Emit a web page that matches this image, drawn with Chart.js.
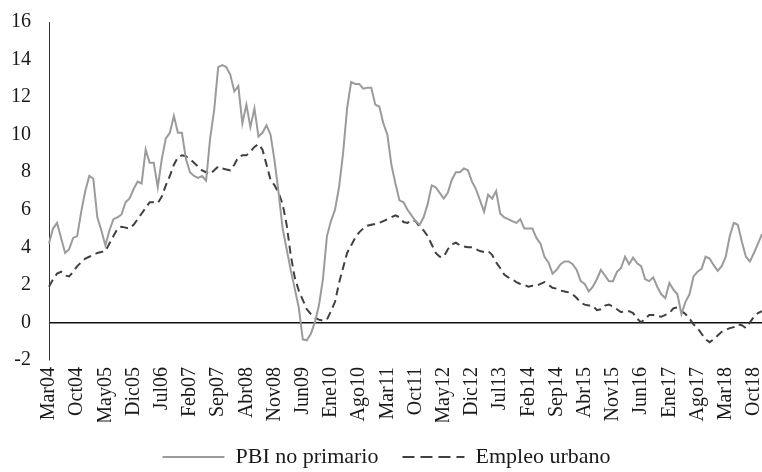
<!DOCTYPE html>
<html>
<head>
<meta charset="utf-8">
<script src="https://cdn.jsdelivr.net/npm/chart.js@4"></script>
<style>
  body { margin: 0; background: #fff; }
  #wrap { width: 762px; height: 472px; position: relative; }
</style>
</head>
<body>
<div id="wrap"><canvas id="chart"></canvas></div>
<script>
// month names used in the category labels (Mar04 ... Dic18)
var monthNames = ['Ene','Feb','Mar','Abr','May','Jun','Jul','Ago','Sep','Oct','Nov','Dic'];
var startYear = 2004, startMonth = 2, nMonths = 178;

// PBI no primario (var. % 12 meses)
var pbiNoPrimario = [
  4.2, 5.0, 5.3, 4.5, 3.7, 3.9, 4.5, 4.6, 5.9, 7.0, 7.8, 7.65,
  5.6, 4.9, 4.1, 4.9, 5.5, 5.6, 5.75, 6.4, 6.6, 7.1, 7.5, 7.4,
  9.2, 8.5, 8.5, 7.2, 8.7, 9.8, 10.1, 11.0, 10.1, 10.1, 8.7, 8.0,
  7.8, 7.7, 7.8, 7.55, 9.8, 11.3, 13.6, 13.7, 13.6, 13.2, 12.3, 12.6,
  10.6, 11.6, 10.4, 11.4, 9.9, 10.1, 10.5, 10.0, 8.6, 6.9, 5.0, 3.9,
  2.8, 1.8, 0.8, -0.9, -0.95, -0.6, 0.0, 0.9, 2.3, 4.6, 5.4, 6.0,
  7.2, 9.0, 11.4, 12.8, 12.7, 12.7, 12.45, 12.5, 12.5, 11.6, 11.5, 10.6,
  10.0, 8.4, 7.4, 6.5, 6.4, 6.0, 5.7, 5.4, 5.2, 5.6, 6.3, 7.3,
  7.2, 6.9, 6.6, 6.9, 7.6, 8.0, 8.0, 8.2, 8.1, 7.5, 7.1, 6.5,
  5.9, 6.8, 6.6, 7.0, 5.8, 5.6, 5.5, 5.4, 5.3, 5.5, 5.0, 5.0,
  5.0, 4.5, 4.2, 3.5, 3.2, 2.6, 2.8, 3.1, 3.25, 3.25, 3.1, 2.8,
  2.2, 2.05, 1.65, 1.9, 2.3, 2.8, 2.5, 2.2, 2.2, 2.7, 2.9, 3.5,
  3.1, 3.45, 3.15, 3.0, 2.3, 2.2, 2.4, 1.9, 1.5, 1.3, 2.1, 1.75,
  1.5, 0.45, 1.1, 1.5, 2.45, 2.7, 2.85, 3.5, 3.4, 3.05, 2.75, 3.0,
  3.5, 4.6, 5.3, 5.2, 4.3, 3.5, 3.25, 3.7, 4.2, 4.7
];

// Empleo urbano (var. % 12 meses)
var empleoUrbano = [
  1.9, 2.3, 2.6, 2.7, 2.5, 2.45, 2.7, 3.0, 3.2, 3.4, 3.5, 3.6,
  3.7, 3.75, 3.8, 4.2, 4.6, 5.0, 5.1, 5.05, 5.0, 5.2, 5.5, 5.8,
  6.1, 6.4, 6.4, 6.35, 6.7, 7.3, 7.8, 8.4, 8.8, 8.9, 8.85, 8.7,
  8.5, 8.3, 8.1, 8.0, 7.9, 8.1, 8.3, 8.2, 8.15, 8.1, 8.4, 8.8,
  8.9, 8.9, 9.1, 9.35, 9.5, 9.2, 8.4, 7.6, 7.3, 6.9, 6.3, 5.2,
  3.6, 2.4, 1.7, 1.2, 0.7, 0.45, 0.25, 0.15, 0.1, 0.15, 0.6, 1.1,
  2.1, 2.9, 3.7, 4.1, 4.5, 4.8, 5.0, 5.15, 5.2, 5.25, 5.3, 5.4,
  5.5, 5.6, 5.7, 5.6, 5.35, 5.3, 5.45, 5.4, 5.1, 4.9, 4.6, 4.15,
  3.7, 3.5, 3.5, 3.9, 4.15, 4.25, 4.1, 4.05, 4.0, 4.0, 3.9, 3.8,
  3.75, 3.8, 3.6, 3.2, 2.9, 2.55, 2.4, 2.3, 2.15, 2.05, 2.0, 1.9,
  1.95, 1.95, 2.05, 2.15, 2.0, 1.85, 1.8, 1.7, 1.65, 1.6, 1.5, 1.3,
  1.05, 0.95, 0.9, 0.9, 0.65, 0.7, 0.9, 0.95, 0.85, 0.7, 0.55, 0.6,
  0.6, 0.5, 0.2, 0.0, 0.2, 0.4, 0.4, 0.35, 0.3, 0.4, 0.5, 0.75,
  0.8, 0.6, 0.45, 0.2, -0.1, -0.3, -0.6, -0.9, -1.05, -0.9, -0.7, -0.5,
  -0.4, -0.3, -0.25, -0.1, -0.15, -0.3, 0.0, 0.3, 0.5, 0.6
];

var labels = [];
for (var i = 0; i < nMonths; i++) {
  var m = (startMonth + i) % 12;
  var y = startYear + Math.floor((startMonth + i) / 12);
  labels.push(monthNames[m] + String(y).slice(2));
}

var serif = '"Liberation Serif", "DejaVu Serif", serif';

const config = {
  type: 'line',
  data: {
    labels: labels,
    datasets: [{
      label: 'PBI no primario',
      data: pbiNoPrimario,
      borderColor: '#9b9b9b',
      backgroundColor: '#9b9b9b',
      borderWidth: 2,
      pointRadius: 0,
      tension: 0
    }, {
      label: 'Empleo urbano',
      data: empleoUrbano,
      borderColor: '#404040',
      backgroundColor: '#404040',
      borderWidth: 2,
      borderDash: [8, 5],
      pointRadius: 0,
      tension: 0
    }]
  },
  options: {
    responsive: true,
    maintainAspectRatio: false,
    animation: false,
    layout: { padding: { left: 11, right: 0, top: 22, bottom: -6 } },
    plugins: {
      tooltip: { enabled: false },
      legend: {
        position: 'bottom',
        labels: {
          usePointStyle: true,
          pointStyle: 'line',
          pointStyleWidth: 62,
          padding: 24,
          color: '#1a1a1a',
          font: { family: serif, size: 22 },
          generateLabels: function (chart) {
            var items = Chart.defaults.plugins.legend.labels.generateLabels(chart);
            items.forEach(function (it, i) {
              var ds = chart.data.datasets[i];
              it.lineWidth = ds.borderWidth;
              it.lineDash = ds.borderDash ? [12, 6] : [];
            });
            return items;
          }
        }
      }
    },
    scales: {
      x: {
        offset: false,
        grid: { display: false, drawTicks: false },
        border: { display: false },
        afterFit: function (scale) {
          scale.paddingLeft = 0;
          scale.paddingRight = 0;
          scale.height = 62;
        },
        ticks: {
          autoSkip: false,
          minRotation: 90,
          maxRotation: 90,
          padding: 7,
          color: '#1a1a1a',
          font: { family: serif, size: 20 },
          callback: function (value, index) {
            return index % 7 === 0 ? this.getLabelForValue(value) : null;
          }
        }
      },
      y: {
        min: -2,
        max: 16,
        afterFit: function (scale) {
          scale.paddingTop = 0;
          scale.paddingBottom = 0;
          scale.width = 38;
        },
        ticks: {
          stepSize: 2,
          padding: 18,
          color: '#1a1a1a',
          font: { family: serif, size: 20 }
        },
        border: { display: true, color: '#333', width: 1 },
        grid: {
          drawTicks: false,
          lineWidth: 1.5,
          color: function (ctx) {
            return ctx.tick && ctx.tick.value === 0 ? '#111' : 'rgba(0,0,0,0)';
          }
        }
      }
    }
  }
};

new Chart(document.getElementById('chart'), config);
</script>
</body>
</html>
